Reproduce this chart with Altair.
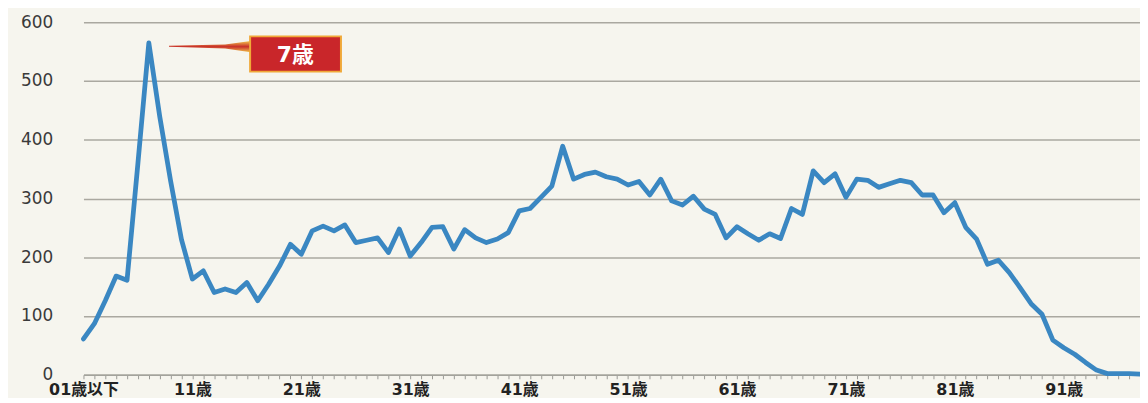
import altair as alt
import pandas as pd

ages = list(range(1, 99))
age_labels = ["01歳以下"] + [f"{a}歳" for a in ages[1:]]
counts = [61, 87, 126, 168, 161, 360, 565, 440, 330, 230,
          163, 177, 140, 146, 140, 157, 126, 154, 185, 222,
          205, 245, 253, 245, 255, 225, 229, 233, 208, 248,
          202, 225, 251, 252, 214, 247, 233, 225, 231, 242,
          279, 283, 302, 321, 389, 333, 341, 345, 337, 333,
          323, 329, 306, 333, 296, 289, 304, 282, 273, 233,
          252, 240, 229, 240, 232, 283, 273, 347, 327, 342,
          302, 333, 331, 319, 325, 331, 327, 306, 306, 276,
          293, 251, 231, 188, 195, 174, 148, 121, 103, 59,
          46, 35, 21, 8, 2, 2, 2, 1]
y_ticks = [0, 100, 200, 300, 400, 500, 600]
callout_text = ["7歳"]

df = pd.DataFrame({"age": ages, "label": age_labels, "count": counts})

# callout (positioned in data coordinates)
box_df = pd.DataFrame({"x": [16.3], "x2": [24.64], "y": [576], "y2": [516]})
txt_df = pd.DataFrame({"x": [20.45], "y": [544], "t": callout_text})
wedge_df = pd.DataFrame({"x": [8.85, 14.0, 16.35],
                         "lo": [558.3, 555.5, 549.0],
                         "hi": [560.0, 562.0, 568.0]})

FONT = "DejaVu Sans, Noto Sans CJK JP"

x_enc = alt.X("age:Q",
              scale=alt.Scale(domain=[1, 98], nice=False, zero=False),
              axis=alt.Axis(values=ages, tickCount=200, title=None, grid=False,
                            labelExpr="datum.value == 1 ? '01歳以下' : ((datum.value - 1) % 10 == 0 ? datum.value + '歳' : '')",
                            labelOverlap=False, labelFlush=False,
                            labelFont=FONT, labelFontSize=16, labelFontWeight="bold",
                            labelColor="#222222", labelPadding=3,
                            tickSize=4, tickColor="#9a9a95", tickWidth=1,
                            domainColor="#a3a39c", domainWidth=1.5))
y_enc = alt.Y("count:Q",
              scale=alt.Scale(domain=[0, 600], nice=False),
              axis=alt.Axis(values=y_ticks, title=None, grid=True,
                            gridColor="#aaa8a0", gridWidth=1.5,
                            domain=False, ticks=False,
                            labelFont="DejaVu Sans", labelFontSize=17,
                            labelColor="#3a3a3a", labelPadding=31))

line = alt.Chart(df).mark_line(color="#3a87c2", strokeWidth=4.8,
                               strokeJoin="round", strokeCap="round").encode(x=x_enc, y=y_enc)

wedge = alt.Chart(wedge_df).mark_area(
    color=alt.LinearGradient(gradient="linear",
                             stops=[alt.GradientStop(color="#f2c24a", offset=0),
                                    alt.GradientStop(color="#c8302a", offset=0.5),
                                    alt.GradientStop(color="#f2c24a", offset=1)],
                             x1=0, x2=0, y1=0, y2=1)
).encode(x="x:Q", y="hi:Q", y2="lo:Q")

box = alt.Chart(box_df).mark_rect(fill="#c9262a", stroke="#f0a838", strokeWidth=2).encode(
    x="x:Q", x2="x2:Q", y="y:Q", y2="y2:Q")

txt = alt.Chart(txt_df).mark_text(color="white", font=FONT, fontSize=22,
                                  fontWeight="bold", align="center", baseline="middle").encode(
    x="x:Q", y="y:Q", text="t:N")

chart = alt.layer(line, wedge, box, txt).properties(
    width=1064, height=355,
    autosize=alt.AutoSizeParams(type="none"),
    padding={"left": 76, "top": 13, "right": 0, "bottom": 22},
    background="#f6f5ee",
).configure_view(stroke=None)

chart.save("out.html", embed_options={"renderer": "svg", "actions": False})
